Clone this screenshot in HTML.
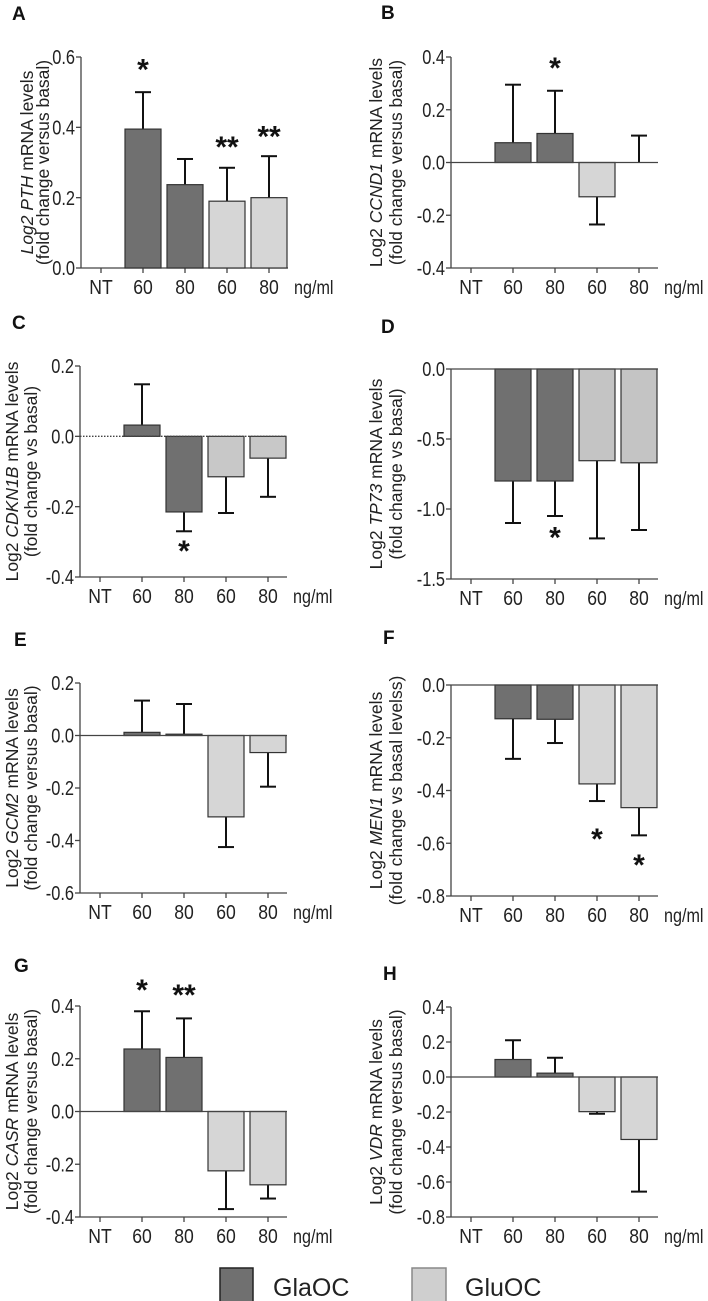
<!DOCTYPE html>
<html><head><meta charset="utf-8">
<style>
html,body{margin:0;padding:0;background:#fff;}
svg{display:block;font-family:"Liberation Sans",Arial,sans-serif;}
</style></head>
<body>
<svg id="fig" width="708" height="1301" viewBox="0 0 708 1301"></svg>
<script>
const categories = ["NT","60","80","60","80"];
const groups = ["none","GlaOC","GlaOC","GluOC","GluOC"];
const aMeans=[0,0.395,0.237,0.19,0.20];      const aErr=[0,0.50,0.31,0.285,0.318];
const aStars=["","*","","**","**"];          const aStarY=[0,0.57,0,0.35,0.38];
const bMeans=[0,0.075,0.11,-0.13,0];         const bErr=[0,0.295,0.272,-0.235,0.102];
const bStars=["","","*","",""];              const bStarY=[0,0,0.366,0,0];
const cMeans=[0,0.032,-0.215,-0.115,-0.062]; const cErr=[0,0.148,-0.27,-0.218,-0.172];
const cStars=["","","*","",""];              const cStarY=[0,0,-0.32,0,0];
const dMeans=[0,-0.80,-0.80,-0.655,-0.67];   const dErr=[0,-1.10,-1.05,-1.21,-1.15];
const dStars=["","","*","",""];              const dStarY=[0,0,-1.19,0,0];
const eMeans=[0,0.012,0.005,-0.31,-0.065];   const eErr=[0,0.133,0.12,-0.425,-0.195];
const eStars=["","","","",""];               const eStarY=[0,0,0,0,0];
const fMeans=[0,-0.128,-0.13,-0.375,-0.465]; const fErr=[0,-0.28,-0.22,-0.44,-0.57];
const fStars=["","","","*","*"];             const fStarY=[0,0,0,-0.576,-0.675];
const gMeans=[0,0.237,0.205,-0.225,-0.278];  const gErr=[0,0.38,0.353,-0.37,-0.33];
const gStars=["","*","**","",""];            const gStarY=[0,0.468,0.449,0,0];
const hMeans=[0,0.10,0.022,-0.198,-0.357];   const hErr=[0,0.21,0.11,-0.21,-0.655];
const hStars=["","","","",""];               const hStarY=[0,0,0,0,0];
const aTicks=[0,0.2,0.4,0.6];
const bTicks=[-0.4,-0.2,0,0.2,0.4];
const cTicks=[-0.4,-0.2,0,0.2];
const dTicks=[-1.5,-1.0,-0.5,0];
const eTicks=[-0.6,-0.4,-0.2,0,0.2];
const fTicks=[-0.8,-0.6,-0.4,-0.2,0];
const gTicks=[-0.4,-0.2,0,0.2,0.4];
const hTicks=[-0.8,-0.6,-0.4,-0.2,0,0.2,0.4];

const NS="http://www.w3.org/2000/svg";
const svg=document.getElementById('fig');
function mk(tag,attrs,parent){const e=document.createElementNS(NS,tag);for(const k in attrs)e.setAttribute(k,attrs[k]);(parent||svg).appendChild(e);return e;}

const panels=[
 {id:"a",letter:"A",lx:12,ly:20,x0:81,top:57,bot:268,min:0,max:0.6,ticks:aTicks,means:aMeans,err:aErr,stars:aStars,starY:aStarY,gene:"PTH",italLog:true,l2:"(fold change versus basal)",t1:27,t2:43,light:"#d6d6d6"},
 {id:"b",letter:"B",lx:381,ly:19,x0:451,top:57,bot:268,min:-0.4,max:0.4,ticks:bTicks,means:bMeans,err:bErr,stars:bStars,starY:bStarY,gene:"CCND1",l2:"(fold change versus basal)",t1:376,t2:396,light:"#d6d6d6"},
 {id:"c",letter:"C",lx:12,ly:329,x0:80,top:366,bot:577,min:-0.4,max:0.2,ticks:cTicks,means:cMeans,err:cErr,stars:cStars,starY:cStarY,gene:"CDKN1B",l2:"(fold change vs basal)",t1:12,t2:31,light:"#c8c8c8",dotted:true},
 {id:"d",letter:"D",lx:381,ly:333,x0:451,top:369,bot:579,min:-1.5,max:0,ticks:dTicks,means:dMeans,err:dErr,stars:dStars,starY:dStarY,gene:"TP73",l2:"(fold change vs basal)",t1:376,t2:396,light:"#c4c4c4"},
 {id:"e",letter:"E",lx:14,ly:646,x0:80,top:683,bot:893,min:-0.6,max:0.2,ticks:eTicks,means:eMeans,err:eErr,stars:eStars,starY:eStarY,gene:"GCM2",l2:"(fold change versus basal)",t1:12,t2:31,light:"#d6d6d6"},
 {id:"f",letter:"F",lx:383,ly:644,x0:451,top:685,bot:896,min:-0.8,max:0,ticks:fTicks,means:fMeans,err:fErr,stars:fStars,starY:fStarY,gene:"MEN1",l2:"(fold change vs basal levelss)",t1:376,t2:396,light:"#d6d6d6"},
 {id:"g",letter:"G",lx:14,ly:972,x0:80,top:1006,bot:1217,min:-0.4,max:0.4,ticks:gTicks,means:gMeans,err:gErr,stars:gStars,starY:gStarY,gene:"CASR",l2:"(fold change versus basal)",t1:12,t2:31,light:"#d6d6d6"},
 {id:"h",letter:"H",lx:383,ly:980,x0:451,top:1007,bot:1217,min:-0.8,max:0.4,ticks:hTicks,means:hMeans,err:hErr,stars:hStars,starY:hStarY,gene:"VDR",l2:"(fold change versus basal)",t1:376,t2:396,light:"#d6d6d6"}
];
const DARK="#707070";

panels.forEach(p=>{
  const g=mk('g',{});
  
  
  const y=v=>p.bot-(v-p.min)/(p.max-p.min)*(p.bot-p.top);
  const cx=i=>p.x0+20+42*i;
  const xEnd=p.x0+207;
  const lt=mk('text',{x:p.lx,y:p.ly,'font-size':19,'font-weight':'bold',fill:'#111'},g);
  lt.textContent=p.letter;
  
  
  const mid=(p.top+p.bot)/2;
  const t1=mk('text',{x:0,y:0,'font-size':17.5,'text-anchor':'middle','dominant-baseline':'central',fill:'#222',transform:`translate(${p.t1},${mid}) rotate(-90)`},g);
  
  
  const s1=mk('tspan',{'font-style':p.italLog?'italic':'normal'},t1);s1.textContent='Log2 ';
  const s2=mk('tspan',{'font-style':'italic'},t1);s2.textContent=p.gene;
  const s3=mk('tspan',{},t1);s3.textContent=' mRNA levels';
  const t2=mk('text',{x:0,y:0,'font-size':17.5,'text-anchor':'middle','dominant-baseline':'central',fill:'#222',transform:`translate(${p.t2},${mid}) rotate(-90)`},g);
  t2.textContent=p.l2;
  
  
  const ya=mk('line',{x1:p.x0,y1:p.top,x2:p.x0,y2:p.bot,stroke:'#444','stroke-width':1.3},g);
  
  
  p.ticks.forEach(t=>{
    mk('line',{x1:p.x0-5,y1:y(t),x2:p.x0,y2:y(t),stroke:'#444','stroke-width':1.3},g);
    const tl=mk('text',{x:0,y:0,'font-size':20,'text-anchor':'end','dominant-baseline':'central',fill:'#222',transform:`translate(${p.x0-6},${y(t)}) scale(0.82,1)`},g);
    tl.textContent=t.toFixed(1);
    
    
  });
  const xa=mk('line',{x1:p.x0,y1:p.bot,x2:xEnd,y2:p.bot,stroke:'#444','stroke-width':1.3},g);
  
  
  categories.forEach((c,i)=>{
    mk('line',{x1:cx(i),y1:p.bot,x2:cx(i),y2:p.bot+5,stroke:'#444','stroke-width':1.3},g);
    const xl=mk('text',{x:0,y:0,'font-size':20,'text-anchor':'middle',fill:'#222',transform:`translate(${cx(i)},${p.bot+26}) scale(0.88,1)`},g);
    xl.textContent=c;
    
    
  });
  const un=mk('text',{x:0,y:0,'font-size':19,fill:'#222',transform:`translate(${p.x0+213},${p.bot+26}) scale(0.85,1)`},g);
  un.textContent='ng/ml';
  
  
  p.means.forEach((m,i)=>{
    const col=groups[i]==="GlaOC"?DARK:p.light;
    const e=p.err[i];
    if(i>0){
      const el=mk('line',{x1:cx(i),y1:y(m),x2:cx(i),y2:y(e),stroke:'#111','stroke-width':2},g);
      
      
      mk('line',{x1:cx(i)-8,y1:y(e),x2:cx(i)+8,y2:y(e),stroke:'#111','stroke-width':2},g);
    }
    if(m!==0){
      const r=mk('rect',{x:cx(i)-18,y:Math.min(y(m),y(0)),width:36,height:Math.abs(y(m)-y(0)),fill:col,stroke:'#333','stroke-width':1.2},g);
      
      
    }
    if(p.stars[i]){
      const st=mk('text',{x:cx(i),y:y(p.starY[i])+12,'font-size':30,'font-weight':'bold','text-anchor':'middle',fill:'#111'},g);
      st.textContent=p.stars[i];
      
      
    }
  });
  if(p.min<0){
    const zl=mk('line',{x1:p.x0,y1:y(0),x2:xEnd,y2:y(0),stroke:'#444','stroke-width':1.3},g);
    if(p.dotted) zl.setAttribute('stroke-dasharray','1.5 1.5');
    
    
  }
});
const lg=mk('g',{});


const b1=mk('rect',{x:220,y:1268,width:33,height:40,fill:DARK,stroke:'#222','stroke-width':1.5},lg);


const tx1=mk('text',{x:273,y:1296,'font-size':25,fill:'#222'},lg);
tx1.textContent='GlaOC';


const b2=mk('rect',{x:412,y:1268,width:34,height:40,fill:'#cfcfcf',stroke:'#888','stroke-width':1.5},lg);


const tx2=mk('text',{x:465,y:1296,'font-size':25,fill:'#222'},lg);
tx2.textContent='GluOC';


</script>
</body></html>
